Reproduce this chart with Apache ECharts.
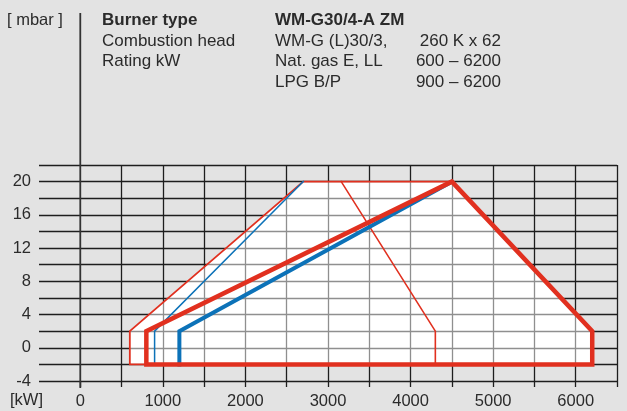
<!DOCTYPE html>
<html>
<head>
<meta charset="utf-8">
<script src="https://cdn.jsdelivr.net/npm/echarts@6/dist/echarts.min.js"></script>
<style>
  html, body { margin: 0; padding: 0; background: #e3e3e3; }
  #chart { width: 627px; height: 411px; }
</style>
</head>
<body>
<div id="chart"></div>
<script>
// Working field of the burner: pressure [mbar] over rating [kW]
const X_TICK_LABELS = [0, 1000, 2000, 3000, 4000, 5000, 6000];
const X_TICKS = [0, 500, 1000, 1500, 2000, 2500, 3000, 3500, 4000, 4500, 5000, 5500, 6000, 6500];
const Y_TICK_LABELS = [-4, 0, 4, 8, 12, 16, 20];

// Overall white working area
const workingArea = [[600, -2], [600, 2], [2700, 20], [4500, 20], [6200, 2], [6200, -2]];

// Thin red envelopes
const thinRedLeft = [[800, -2], [600, -2], [600, 2], [2700, 20], [4500, 20]];
const thinRedRight = [[3160, 20], [4300, 2], [4300, -2]];

// Thin blue envelope
const thinBlue = [[900, -2], [900, 2], [2700, 20]];

// Thick blue envelope
const thickBlue = [[1200, -2], [1200, 2], [4500, 20]];

// Thick red envelope
const thickRed = [[800, -2], [800, 2], [4500, 20], [6200, 2], [6200, -2], [800, -2]];

const headerRows = [
  ['Burner type', 'WM-G30/4-A ZM', ''],
  ['Combustion head', 'WM-G (L)30/3,', '260 K x 62'],
  ['Rating kW', 'Nat. gas E, LL', '600 – 6200'],
  ['', 'LPG B/P', '900 – 6200']
];

const RED = '#e1301f';
const BLUE = '#0c72b8';
const INK = '#2b2b2b';
const GRIDC = '#1e1e1e';
const FONT = '"Liberation Sans", Arial, sans-serif';

const chart = echarts.init(document.getElementById('chart'), null, { renderer: 'canvas' });

function lineSeries(data, color, width, z) {
  return {
    type: 'line',
    data: data,
    symbol: 'none',
    animation: false,
    clip: false,
    z: z,
    lineStyle: { color: color, width: width, join: 'miter', cap: 'square' }
  };
}

// Polygon of the working area; drawn once opaque under the grid and once
// translucent above it so the grid lines show grey through the field
function areaSeries(fill, z) {
  return {
    type: 'custom',
    animation: false,
    z: z,
    silent: true,
    renderItem: function (params, api) {
      if (params.dataIndex !== 0) return;
      const pts = workingArea.map(p => api.coord(p));
      return { type: 'polygon', shape: { points: pts }, style: { fill: fill } };
    },
    data: [0]
  };
}

const headerGraphics = [];
headerRows.forEach((row, i) => {
  const y = 12 + i * 20.5;
  const bold = i === 0;
  headerGraphics.push({
    type: 'text', left: 102, top: y,
    style: { text: row[0], fill: INK, font: (bold ? 'bold ' : '') + '17px ' + FONT }
  });
  headerGraphics.push({
    type: 'text', left: 275, top: y,
    style: { text: row[1], fill: INK, font: (bold ? 'bold ' : '') + '17px ' + FONT }
  });
  if (row[2]) {
    headerGraphics.push({
      type: 'text', right: 126, top: y,
      style: { text: row[2], fill: INK, font: '17px ' + FONT }
    });
  }
});

const option = {
  backgroundColor: '#e3e3e3',
  animation: false,
  grid: { left: 39, right: 10, top: 165, bottom: 30, containLabel: false },
  xAxis: {
    type: 'value',
    z: 1,
    min: -500, max: 6500, interval: 500,
    axisLine: { show: false, onZero: false },
    axisTick: {
      show: true, length: 6, customValues: X_TICKS,
      lineStyle: { color: GRIDC, width: 1.3 }
    },
    axisLabel: {
      customValues: X_TICK_LABELS,
      formatter: v => String(v),
      color: INK, fontSize: 16.5, fontFamily: FONT, margin: 12
    },
    splitLine: {
      show: true, showMinLine: false,
      lineStyle: { color: GRIDC, width: 1.3 }
    }
  },
  yAxis: {
    type: 'value',
    z: 1,
    min: -4, max: 22, interval: 2,
    axisLine: { show: false, onZero: false },
    axisTick: { show: false },
    axisLabel: {
      customValues: Y_TICK_LABELS,
      formatter: v => String(v),
      color: INK, fontSize: 16.5, fontFamily: FONT, margin: 8
    },
    splitLine: { show: true, lineStyle: { color: GRIDC, width: 1.3 } }
  },
  series: [
    areaSeries('#ffffff', 0),
    areaSeries('rgba(255,255,255,0.5)', 2),
    lineSeries(thinRedLeft, RED, 1.8, 3),
    lineSeries(thinRedRight, RED, 1.6, 3),
    lineSeries(thinBlue, BLUE, 1.5, 3),
    lineSeries(thickBlue, BLUE, 4, 4),
    lineSeries(thickRed, RED, 4.5, 5)
  ],
  graphic: [
    { type: 'text', left: 7, top: 12, style: { text: '[ mbar ]', fill: INK, font: '16.5px ' + FONT } },
    { type: 'text', left: 10, top: 392, style: { text: '[kW]', fill: INK, font: '16.5px ' + FONT } }
  ].concat(headerGraphics)
};

chart.setOption(option);

// Pressure axis line at 0 kW, extended up into the header area
const x0 = chart.convertToPixel({ xAxisIndex: 0 }, 0);
const yBottom = chart.convertToPixel({ yAxisIndex: 0 }, -4);
chart.setOption({
  graphic: option.graphic.concat([{
    type: 'line',
    shape: { x1: x0, y1: 13, x2: x0, y2: yBottom + 7 },
    style: { stroke: '#333', lineWidth: 1.8 },
    z: 10
  }])
});
</script>
</body>
</html>
